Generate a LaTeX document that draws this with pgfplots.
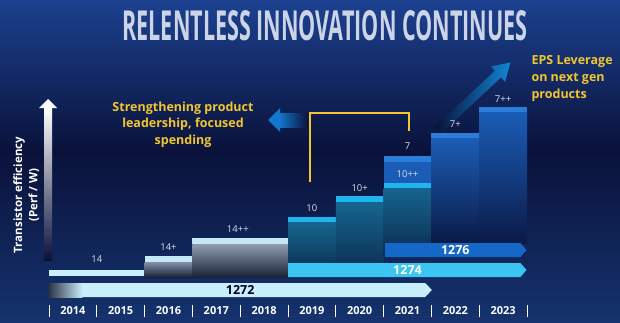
\documentclass[border=0pt]{standalone}
\usepackage{pgfplots}
\pgfplotsset{compat=1.18}
\usepackage{graphicx}
\usepackage{fontspec}
\setmainfont{Open Sans}
\definecolor{bgtop}{HTML}{1C418F}
\definecolor{bgmid}{HTML}{0A123A}
\definecolor{bgbot}{HTML}{15336E}
\definecolor{ylw}{HTML}{F2C630}
\definecolor{lcyan}{HTML}{C9EEFC}
\definecolor{cyanA}{HTML}{3CC5F3}
\definecolor{blueA}{HTML}{1568C8}
\definecolor{grayT}{HTML}{8392A8}
\definecolor{grayB}{HTML}{1A2238}
\definecolor{cyanBand}{HTML}{1EB4EE}
\definecolor{tealT}{HTML}{16658F}
\definecolor{tealB}{HTML}{0C2A4E}
\definecolor{blueBand}{HTML}{2A7EDA}
\definecolor{blueT}{HTML}{1B5DB6}
\definecolor{blueB}{HTML}{0B1A48}
\definecolor{lbl}{HTML}{D8DEEA}
\definecolor{titlec}{HTML}{CCD4E7}
\begin{document}
\begin{tikzpicture}[x=1pt,y=1pt]
% background
\shade[top color=bgtop, bottom color=bgmid] (0,322) rectangle (620,170);
\shade[top color=bgmid, bottom color=bgbot] (0,170.5) rectangle (620,0);
% title
\node[text=titlec] at (325,296) {\resizebox{405pt}{30pt}{\bfseries RELENTLESS INNOVATION CONTINUES}};
% y arrow
\shade[top color=white, bottom color=bgmid] (44,214) rectangle (52,62);
\fill[white] (39,214) -- (48,223) -- (57,214) -- cycle;
\node[rotate=90, text=white, font=\bfseries\fontsize{11.5}{13}\selectfont] at (19,127) {Transistor efficiency};
\node[rotate=90, text=white, font=\bfseries\fontsize{11.5}{13}\selectfont] at (34,127) {(Perf / W)};
% left blue arrow
\shade[left color=blueA!90!cyan, right color=bgmid] (279,195) rectangle (308,209);
\fill[blueA!90!cyan] (268,202) -- (280,214) -- (280,190) -- cycle;
% bracket
\draw[ylw, line width=1.8pt] (310,140) -- (310,209) -- (409,209) -- (409,191);
% diagonal arrow
\begin{scope}[shift={(438,192)}, rotate=43]
\shade[left color=bgmid, right color=blueA!80!cyan] (0,-4.5) -- (82,-4.5) -- (82,-10.5) -- (99,0) -- (82,10.5) -- (82,4.5) -- (0,4.5) -- cycle;
\end{scope}
% texts
\begin{scope}[font=\bfseries\fontsize{12.5}{14}\selectfont, text=ylw]
\node[anchor=base] at (183,211) {Strengthening product};
\node[anchor=base] at (183,195) {leadership, focused};
\node[anchor=base] at (183,178) {spending};
\node[anchor=base west] at (528,258) {EPS Leverage};
\node[anchor=base west] at (528,241) {on next gen};
\node[anchor=base west] at (528,224) {products};
\end{scope}
\begin{axis}[at={(0,0)}, anchor=south west, scale only axis, width=620pt, height=322pt,
  xmin=2012.97490, xmax=2025.94561, ymin=0, ymax=322, hide axis, clip=false]
% 14
\addplot[draw=none, fill=lcyan] coordinates {(2014,46) (2016,46) (2016,52) (2014,52)} -- cycle;
% 14+
\addplot[draw=none, top color=grayT, bottom color=grayB] coordinates {(2016,45) (2017,45) (2017,60) (2016,60)} -- cycle;
\addplot[draw=none, fill=lcyan!95!gray] coordinates {(2016,60) (2017,60) (2017,66) (2016,66)} -- cycle;
% 14++
\addplot[draw=none, top color=grayT!90!white, bottom color=grayB] coordinates {(2017,45) (2019,45) (2019,78) (2017,78)} -- cycle;
\addplot[draw=none, fill=lcyan!95!gray] coordinates {(2017,78) (2019,78) (2019,84) (2017,84)} -- cycle;
% 10
\addplot[draw=none, top color=tealT, bottom color=tealB] coordinates {(2019,45) (2020,45) (2020,100) (2019,100)} -- cycle;
\addplot[draw=none, fill=cyanBand] coordinates {(2019,100) (2020,100) (2020,105) (2019,105)} -- cycle;
% 10+
\addplot[draw=none, top color=tealT, bottom color=tealB] coordinates {(2020,45) (2021,45) (2021,120) (2020,120)} -- cycle;
\addplot[draw=none, fill=cyanBand] coordinates {(2020,120) (2021,120) (2021,126) (2020,126)} -- cycle;
% 7
\addplot[draw=none, fill=blueT] coordinates {(2021,139) (2022,139) (2022,160) (2021,160)} -- cycle;
\addplot[draw=none, fill=blueBand] coordinates {(2021,160) (2022,160) (2022,166) (2021,166)} -- cycle;
% 10++
\addplot[draw=none, top color=tealT, bottom color=tealB] coordinates {(2021,65) (2022,65) (2022,134) (2021,134)} -- cycle;
\addplot[draw=none, fill=cyanBand] coordinates {(2021,134) (2022,134) (2022,139) (2021,139)} -- cycle;
% 7+
\addplot[draw=none, top color=blueT, bottom color=blueB] coordinates {(2022,79) (2023,79) (2023,184) (2022,184)} -- cycle;
\addplot[draw=none, fill=blueBand] coordinates {(2022,184) (2023,184) (2023,189) (2022,189)} -- cycle;
% 7++
\addplot[draw=none, top color=blueT, bottom color=blueB] coordinates {(2023,79) (2024,79) (2024,210) (2023,210)} -- cycle;
\addplot[draw=none, fill=blueBand] coordinates {(2023,210) (2024,210) (2024,215) (2023,215)} -- cycle;
% node arrows
\addplot[draw=none, fill=blueA] coordinates {(2021.03,65) (2023.86,65) (2023.99,72) (2023.86,79) (2021.03,79)} -- cycle;
\addplot[draw=none, fill=cyanA] coordinates {(2019,45) (2023.86,45) (2023.99,52) (2023.86,59) (2019,59)} -- cycle;
\addplot[draw=none, fill=lcyan] coordinates {(2014,25) (2021.87,25) (2022.01,32) (2021.87,39) (2014,39)} -- cycle;
\addplot[draw=none, left color=grayB!80!gray, right color=lcyan] coordinates {(2014,25) (2014.7,25) (2014.7,39) (2014,39)} -- cycle;
% labels
\begin{scope}[font=\bfseries\fontsize{12.5}{14}\selectfont]
\node[text=black!85!blue] at (axis cs:2018,32) {1272};
\node[text=white] at (axis cs:2021.5,52) {1274};
\node[text=white] at (axis cs:2022.5,72) {1276};
\end{scope}
\begin{scope}[font=\fontsize{9.5}{10}\selectfont, text=lbl]
\node at (axis cs:2015,63) {14};
\node at (axis cs:2016.5,75) {14+};
\node at (axis cs:2017.95,93) {14++};
\node at (axis cs:2019.5,114) {10};
\node at (axis cs:2020.5,134) {10+};
\node at (axis cs:2021.5,148) {10++};
\node at (axis cs:2021.5,176) {7};
\node at (axis cs:2022.5,198) {7+};
\node at (axis cs:2023.5,223) {7++};
\end{scope}
\pgfplotsinvokeforeach{2014,...,2023}{
  \node[font=\bfseries\fontsize{11}{12}\selectfont, text=white] at (axis cs:#1.5,11) {#1};
}
\pgfplotsinvokeforeach{2014,...,2024}{
  \draw[white, line width=1pt] (axis cs:#1,5) -- (axis cs:#1,17);
}
\end{axis}
\end{tikzpicture}
\end{document}
